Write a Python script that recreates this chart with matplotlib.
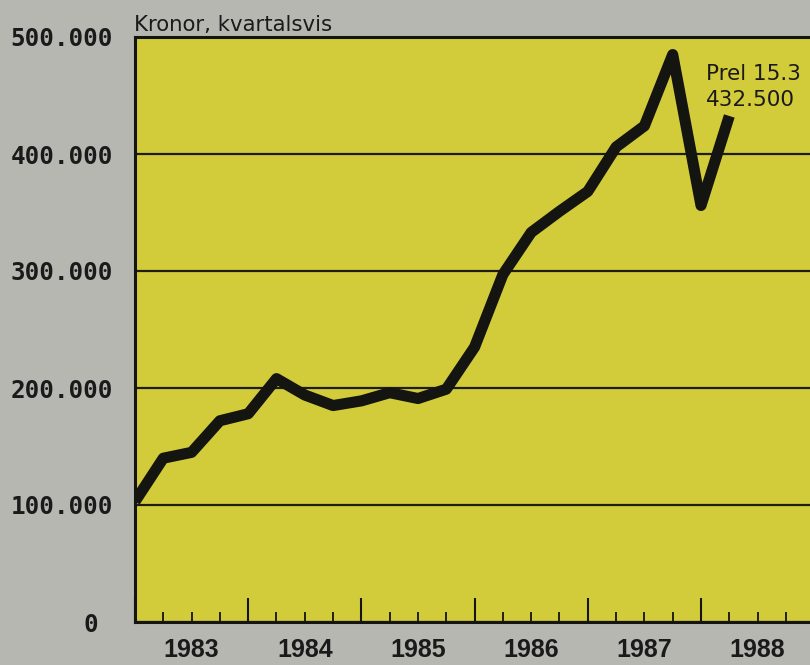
import matplotlib
matplotlib.use("Agg")
import matplotlib.pyplot as plt
import numpy as np

# ---- data ----
start_year = 1983
quarters = np.arange(22) * 0.25 + start_year          # 1983 Q1 .. 1988 Q2
values = [103000, 140000, 145000, 172000, 178000, 208000, 194000, 185000,
          189000, 196000, 191000, 199000, 235000, 297000, 333000, 351000,
          368000, 406000, 424000, 485000, 356000, 432500]
years = [1983, 1984, 1985, 1986, 1987, 1988]
y_ticks = [0, 100000, 200000, 300000, 400000, 500000]
y_labels = ["0 ", "100.000", "200.000", "300.000", "400.000", "500.000"]
title = "Kronor, kvartalsvis"
note = "Prel 15.3"

# ---- style ----
bg = "#b7b7b1"
yellow = "#d3cc3a"
ink = "#141410"

W, H = 810, 665
fig = plt.figure(figsize=(W / 100, H / 100), dpi=100, facecolor=bg)
left_px, right_px, top_px, bottom_px = 135, 810, 37, 622
ax = fig.add_axes([left_px / W, (H - bottom_px) / H,
                   (right_px - left_px) / W, (bottom_px - top_px) / H])
ax.set_facecolor(yellow)

px_per_year = 113.2
ax.set_xlim(start_year, start_year + (right_px - left_px) / px_per_year)
ax.set_ylim(0, 500000)

ax.plot(quarters, values, color=ink, lw=8, solid_joinstyle="round",
        solid_capstyle="butt", zorder=3)

# grid
ax.set_yticks(y_ticks)
ax.set_yticklabels(y_labels, family="DejaVu Sans Mono", weight="bold",
                   fontsize=17.5, color="#1a1a1a")
ax.yaxis.grid(True, color="#1e1e10", lw=1.6)
ax.set_axisbelow(True)
ax.tick_params(axis="y", length=0, pad=16)

# x ticks: years major, quarters minor
ax.set_xticks(years)
ax.set_xticklabels([])
ax.set_xticks([y + q for y in years for q in (0.25, 0.5, 0.75)], minor=True)
ax.tick_params(axis="x", which="major", direction="in", length=17, width=1.5,
               color=ink)
ax.tick_params(axis="x", which="minor", direction="in", length=7.5, width=1.3,
               color=ink)
for yr in years:
    ax.annotate(str(yr), xy=(yr + 0.5, 0), xycoords=("data", "axes fraction"),
                xytext=(0, -25), textcoords="offset points", ha="center",
                va="baseline", family="Liberation Sans", weight="bold",
                fontsize=18, color="#1a1a1a", annotation_clip=False)

for side in ("left", "bottom", "top"):
    ax.spines[side].set_linewidth(2.2)
    ax.spines[side].set_color(ink)
ax.spines["right"].set_visible(False)

ax.annotate(title, xy=(0, 1), xycoords="axes fraction", xytext=(-1, 4),
            textcoords="offset points", ha="left", va="baseline",
            family="DejaVu Sans", fontsize=15.3, color="#1a1a1a",
            annotation_clip=False)

# preliminary note next to last point
lx, ly = quarters[-1], values[-1]
ax.annotate(note, xy=(lx, ly), xytext=(-17, 26), textcoords="offset points",
            ha="left", va="baseline", family="DejaVu Sans", fontsize=15.5,
            color="#1a1a1a")
ax.annotate(f"{ly:,.0f}".replace(",", "."), xy=(lx, ly), xytext=(-17, 7),
            textcoords="offset points", ha="left", va="baseline",
            family="DejaVu Sans", fontsize=15.5, color="#1a1a1a")

fig.savefig("out.png", dpi=100, facecolor=bg)
